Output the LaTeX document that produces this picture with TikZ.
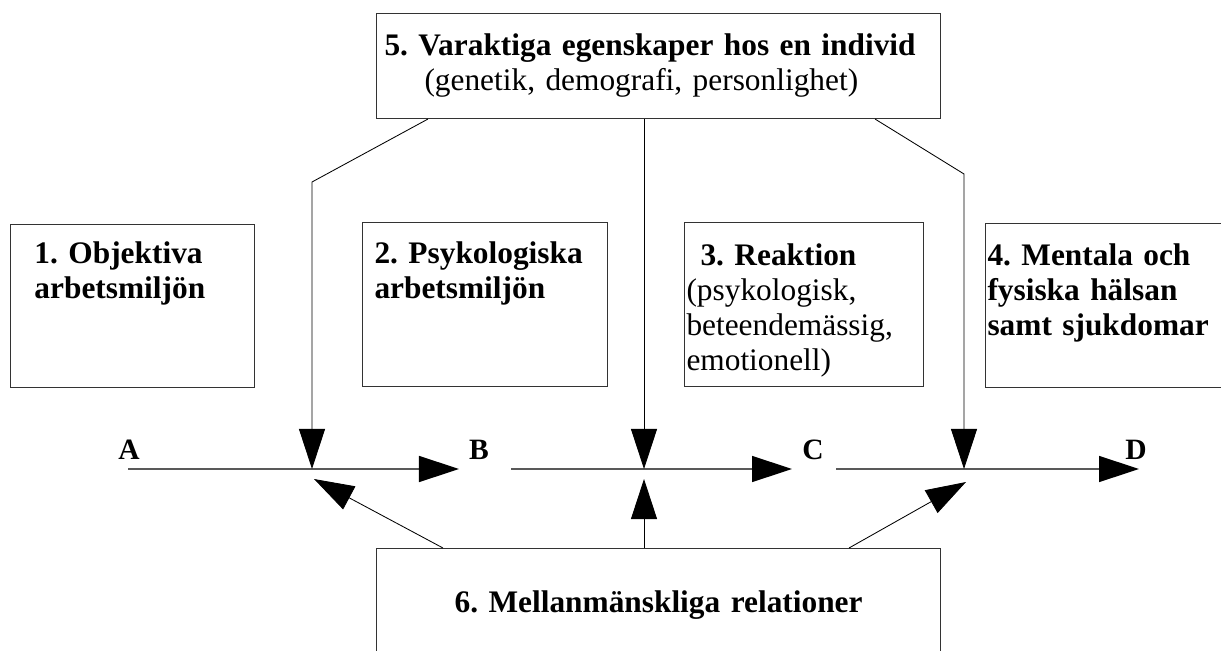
\documentclass[tikz,border=0pt]{standalone}
\usepackage{fontspec}
\setmainfont{Liberation Serif}
\usetikzlibrary{arrows.meta}
\usetikzlibrary{calc}
\usetikzlibrary{positioning}

\begin{document}
\begin{tikzpicture}[x=0.025cm, y=-0.025cm]

        \def\fs{\fontsize{22.3pt}{24.9pt}\selectfont\frenchspacing
            \hyphenpenalty=10000\relax}

        % Looks of the boxes, letters and arrows
        \tikzset{
            box/.style={draw=black!80, line width=0.7pt, anchor=north west,
                inner ysep=0pt, align=left, font=\fs},
            tip/.style={-{Triangle[length=1cm, width=0.65cm, color=black]}},
            link/.style={line width=0.6pt},
            flow/.style={line width=1pt, draw=black!65},
            letter/.style={font=\fontsize{21pt}{22pt}\selectfont\bfseries,
                inner sep=0pt, anchor=base}
        }

        \useasboundingbox (0,0) rectangle (1221,650);

        % Scope with the six boxes
        \begin{scope}
            \node (five) [box, inner xsep=0.2cm, text width=13.7cm,
                text height=1.05cm, text depth=1.575cm] at (376,13)
            {\textbf{5. Varaktiga egenskaper hos en individ}\\
             \hspace*{1cm}(genetik, demografi, personlighet)};
            \node (one) [box, inner xsep=0.6cm, text width=4.9cm,
                text height=0.975cm, text depth=3.1cm] at (10,224)
            {\textbf{1. Objektiva}\\ \textbf{arbetsmiljön}};
            \node (two) [box, inner xsep=0.3cm, text width=5.525cm,
                text height=1.025cm, text depth=3.075cm] at (362,222)
            {\textbf{2. Psykologiska}\\ \textbf{arbetsmiljön}};
            \node (three) [box, inner xsep=0.05cm, text width=5.875cm,
                text height=1.075cm, text depth=3.025cm] at (684,222)
            {\hspace*{0.35cm}\textbf{3. Reaktion}\\ (psykologisk,\\
             beteendemässig,\\ emotionell)};
            \node (four) [box, inner xsep=0.05cm, text width=6.025cm,
                text height=1.05cm, text depth=3.05cm] at (985,223)
            {\textbf{4. Mentala och}\\ \textbf{fysiska hälsan}\\
             \textbf{samt sjukdomar}};
            \node (six) [box, inner xsep=0pt, text width=14.1cm, align=center,
                text height=1.6cm, text depth=2.2cm] at (376,548)
            {\textbf{6. Mellanmänskliga relationer}};
        \end{scope}

        % Letters on the chain
        \node (A) [letter] at (129,459) {A};
        \node (B) [letter] at (479,459) {B};
        \node (C) [letter] at (813,459) {C};
        \node (D) [letter] at (1136,459) {D};

        % Points on the chain where the arrows meet
        \coordinate (j1) at (312,469);
        \coordinate (j2) at (644,469);
        \coordinate (j3) at (964,469);
        \coordinate (k1) at (312,182);
        \coordinate (k3) at (964,174);
        \coordinate (u1) at (314,479);
        \coordinate (u2) at (644,479);
        \coordinate (u3) at (966,482);

        \coordinate (a0) at (128,469);
        \coordinate (a1) at (459,469);
        \coordinate (b0) at (511,469);
        \coordinate (b1) at (792,469);
        \coordinate (c0) at (836,469);
        \coordinate (c1) at (1139,469);

        \begin{scope}[tip]
            \draw[flow] (a0) -- (a1);
            \draw[flow] (b0) -- (b1);
            \draw[flow] (c0) -- (c1);

            \draw[link] ($(five.south west)+(52,0)$) -- (k1) -- (j1);
            \draw[link] (five.south -| j2) -- (j2);
            \draw[link] ($(five.south west)+(499,0)$) -- (k3) -- (j3);

            \draw[link] ($(six.north west)+(67,0)$) -- (u1);
            \draw[link] (six.north -| u2) -- (u2);
            \draw[link] ($(six.north west)+(473,0)$) -- (u3);
        \end{scope}

\end{tikzpicture}
\end{document}
